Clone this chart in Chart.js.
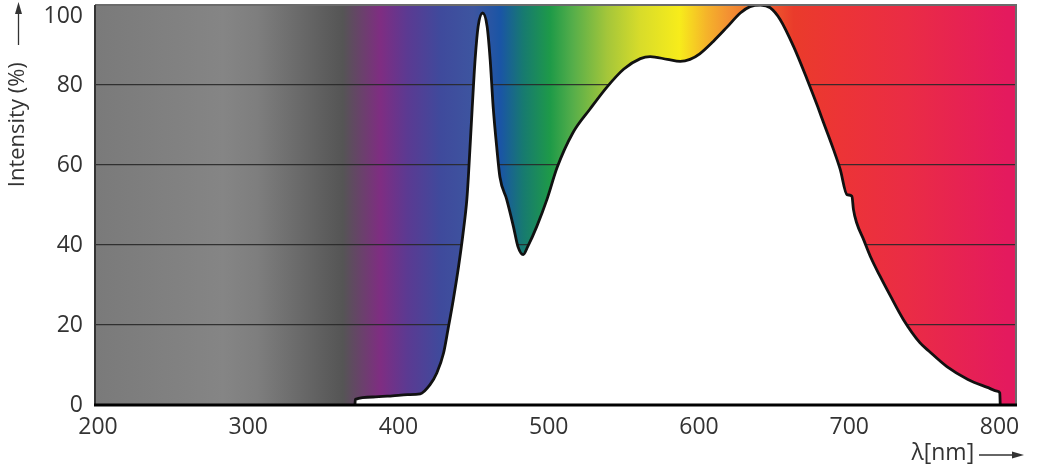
<!DOCTYPE html>
<html>
<head>
<meta charset="utf-8">
<title>LED spectrum</title>
<script src="https://cdn.jsdelivr.net/npm/chart.js@4.4.0/dist/chart.umd.min.js"></script>
<style>
  html, body { margin: 0; padding: 0; background: #fff; }
  #wrap { width: 1043px; height: 469px; }
</style>
</head>
<body>
<div id="wrap"><canvas id="spectrum"></canvas></div>
<script>
// values
const wavelengths = [
  371, 371.3, 383, 396, 406, 414.5, 421, 425.5, 430, 433, 436.5, 440, 443, 445.5, 446.5,
  449, 451, 453, 456, 459, 461, 463, 465.5, 467.5, 472, 476.5, 479.5, 483, 486, 492,
  499, 505.5, 516, 527.5, 539, 550, 561, 567.5, 579, 587.5, 594, 600.5, 609.5, 618.5,
  627.5, 634, 641, 647.5, 654, 663, 672, 679, 683, 689.5, 694, 698.5, 701.8, 702.8,
  705, 709.5, 714, 720.5, 727.5, 736, 747, 753, 765, 779, 792, 799, 800.2, 800.5
];
const intensity = [
  0, 1.4, 2.0, 2.3, 2.6, 2.8, 5.1, 8.0, 13, 19, 26.4, 34.7, 43, 51.4, 57,
  73.9, 86.4, 94.6, 98, 94.6, 86.4, 74.6, 64, 57, 51.4, 44.6, 39.6, 37.6, 39.6, 44.6,
  51.6, 59.3, 68, 74, 79.6, 84, 86.6, 87.1, 86.4, 85.9, 86.4, 87.8, 90.9, 94.4,
  98, 99.6, 100, 99.3, 96.4, 89.6, 81.4, 74.6, 70.5, 63.9, 58.9, 52.6, 52.2, 48.9,
  45.5, 41.4, 37.2, 32.2, 27.2, 21.4, 15.6, 13.5, 9.6, 6.4, 4.4, 3.4, 3.0, 0
];
const xTicks = [200, 300, 400, 500, 600, 700, 800];
const yTicks = [0, 20, 40, 60, 80, 100];

// colour band behind the plot, by wavelength
const bandColours = [
  [198, '#7a7a7a'], [283, '#858585'], [306, '#7e7e7e'], [350, '#5e5e5e'],
  [363, '#555555'], [388, '#7f2d82'], [406, '#5b3a92'], [428, '#3f4a9c'],
  [450, '#3d55a0'], [468, '#1a55a5'], [483, '#177a70'], [501, '#1e9a48'],
  [516, '#55ae4a'], [539, '#a4c63a'], [561, '#d8dc2a'], [587, '#f7ec1b'],
  [605, '#f5b42a'], [619, '#f39232'], [663, '#ea3b2b'], [694, '#ec3436'],
  [739, '#ea2c45'], [805, '#e41a5e']
];

const spectrumBackground = {
  id: 'spectrumBackground',
  beforeDraw(chart) {
    const { ctx, chartArea: a, scales: { x } } = chart;
    const g = ctx.createLinearGradient(a.left, 0, a.right, 0);
    bandColours.forEach(([nm, c]) => {
      const t = (x.getPixelForValue(nm) - a.left) / (a.right - a.left);
      g.addColorStop(Math.min(1, Math.max(0, t)), c);
    });
    ctx.save();
    ctx.fillStyle = g;
    ctx.fillRect(a.left, a.top, a.right - a.left, a.bottom - a.top);
    ctx.restore();
  }
};

const frame = {
  id: 'frame',
  afterDatasetsDraw(chart) {
    const { ctx, chartArea: a } = chart;
    ctx.save();
    ctx.lineWidth = 2;
    ctx.strokeStyle = '#6b6b6b';
    ctx.beginPath();
    ctx.moveTo(a.left, a.top); ctx.lineTo(a.right, a.top); ctx.lineTo(a.right, a.bottom);
    ctx.stroke();
    ctx.strokeStyle = '#333';
    ctx.beginPath();
    ctx.moveTo(a.left, a.top); ctx.lineTo(a.left, a.bottom);
    ctx.stroke();
    ctx.lineWidth = 3;
    ctx.strokeStyle = '#000';
    ctx.beginPath();
    ctx.moveTo(a.left - 1, a.bottom); ctx.lineTo(a.right + 1, a.bottom);
    ctx.stroke();
    ctx.restore();
  }
};

// arrows after the axis titles
function arrow(ctx, x0, y0, x1, y1) {
  const ang = Math.atan2(y1 - y0, x1 - x0);
  const head = 12, half = 3.5;
  ctx.beginPath();
  ctx.moveTo(x0, y0);
  ctx.lineTo(x1 - Math.cos(ang) * head, y1 - Math.sin(ang) * head);
  ctx.stroke();
  ctx.beginPath();
  ctx.moveTo(x1, y1);
  ctx.lineTo(x1 - Math.cos(ang) * head - Math.sin(ang) * half, y1 - Math.sin(ang) * head + Math.cos(ang) * half);
  ctx.lineTo(x1 - Math.cos(ang) * head + Math.sin(ang) * half, y1 - Math.sin(ang) * head - Math.cos(ang) * half);
  ctx.closePath();
  ctx.fill();
}

const titleArrows = {
  id: 'titleArrows',
  afterDraw(chart) {
    const { ctx, chartArea: a } = chart;
    ctx.save();
    ctx.strokeStyle = '#333';
    ctx.fillStyle = '#333';
    ctx.lineWidth = 1.3;
    arrow(ctx, 18.5, a.top + 40, 18.5, a.top - 3);
    arrow(ctx, a.right - 37, 455, a.right + 8, 455);
    ctx.restore();
  }
};

const textColour = '#333333';

new Chart(document.getElementById('spectrum'), {
  type: 'line',
  data: {
    datasets: [{
      data: wavelengths.map((w, i) => ({ x: w, y: intensity[i] })),
      fill: 'origin',
      backgroundColor: '#ffffff',
      borderColor: '#111111',
      borderWidth: 2.8,
      pointRadius: 0,
      cubicInterpolationMode: 'monotone'
    }]
  },
  options: {
    responsive: true,
    maintainAspectRatio: false,
    animation: false,
    layout: { padding: { left: 0, top: 5, right: 27, bottom: 0 } },
    plugins: { legend: { display: false }, tooltip: { enabled: false } },
    scales: {
      x: {
        type: 'linear',
        min: 198,
        max: 811,
        afterBuildTicks: (s) => { s.ticks = xTicks.map(v => ({ value: v })); },
        afterFit: (s) => { s.height = 64; },
        grid: { display: false, drawTicks: false },
        border: { display: false },
        ticks: {
          padding: 9,
          color: textColour,
          font: { family: 'Open Sans', size: 23 }
        },
        title: {
          display: true,
          align: 'end',
          text: 'λ[nm]' + ' '.repeat(7),
          color: textColour,
          font: { family: 'Open Sans', size: 23 },
          padding: { top: 0, bottom: 2 }
        }
      },
      y: {
        min: 0,
        max: 100,
        afterBuildTicks: (s) => { s.ticks = yTicks.map(v => ({ value: v })); },
        afterFit: (s) => { s.width = 95; s.paddingTop = 0; s.paddingBottom = 0; },
        grid: {
          drawTicks: false,
          color: (c) => (c.tick && (c.tick.value === 0 || c.tick.value === 100)) ? 'rgba(0,0,0,0)' : 'rgba(40,40,40,0.9)',
          lineWidth: 1.3
        },
        border: { display: false },
        ticks: {
          padding: 12,
          color: textColour,
          font: { family: 'Open Sans', size: 23, lineHeight: 1 },
          callback: (v) => v === 100 ? ['', '100'] : String(v)
        },
        title: {
          display: true,
          align: 'end',
          text: 'Intensity (%)' + ' '.repeat(10),
          color: textColour,
          font: { family: 'Open Sans', size: 22 },
          padding: { top: 5, bottom: 0 }
        }
      }
    }
  },
  plugins: [spectrumBackground, frame, titleArrows]
});
</script>
</body>
</html>
